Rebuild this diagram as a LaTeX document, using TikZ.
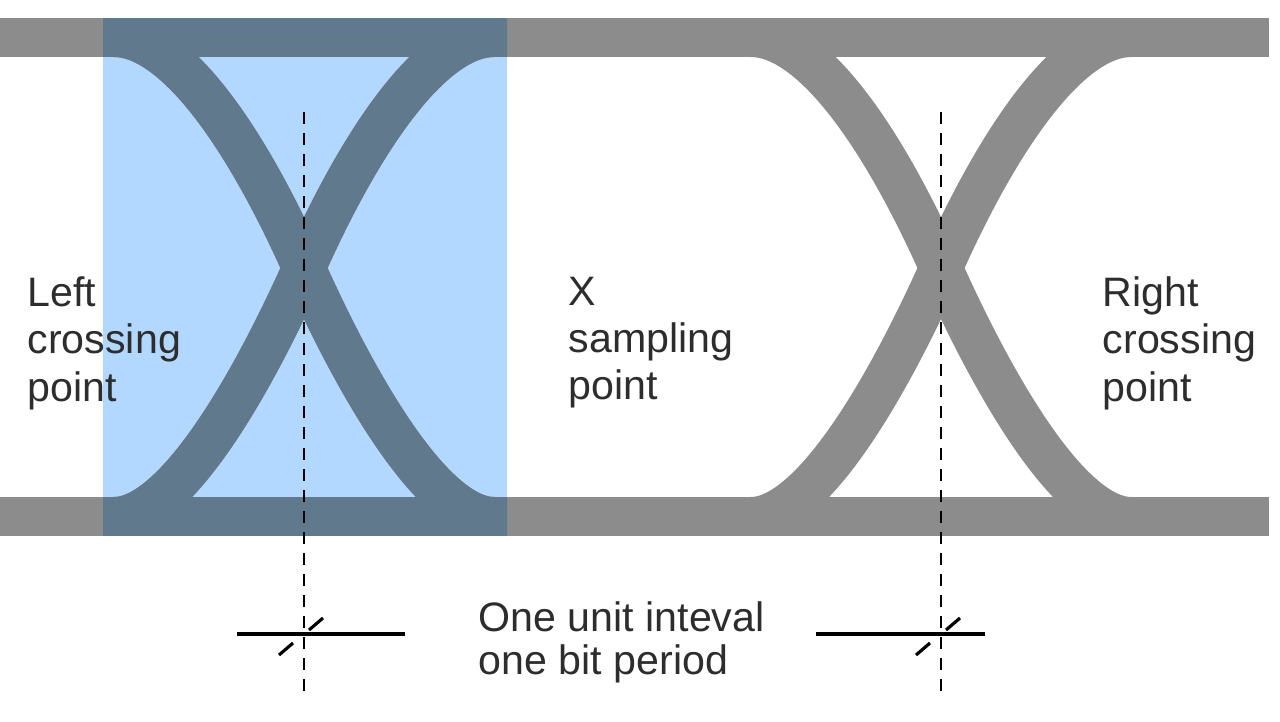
\documentclass[tikz,border=0pt]{standalone}
\usepackage{fontspec}
\setmainfont{Liberation Sans}
\usetikzlibrary{positioning, calc}

\definecolor{eyegray}{RGB}{140,140,140}
\definecolor{uiblue}{RGB}{179,216,255}
\definecolor{eyedark}{RGB}{96,121,140}
\definecolor{txtgray}{RGB}{45,45,45}

% bands + the two crossings, in one colour
\newcommand{\drawEye}[1]{%
  \draw[band, #1] (0,37.5) -- (1269,37.5);
  \draw[band, #1] (0,516.5) -- (1269,516.5);
  \begin{scope}
    \clip (0,18.3) rectangle (1269,535.7);
    \foreach \cx in {304,941} {
      \draw[strand, #1] (\cx-190,35.5) .. controls (\cx-130,35.5) and (\cx-60,133) .. (\cx,268)
                     .. controls (\cx+55,391) and (\cx+130,518.5) .. (\cx+190,518.5);
      \draw[strand, #1] (\cx+190,35.5) .. controls (\cx+130,35.5) and (\cx+60,133) .. (\cx,268)
                     .. controls (\cx-55,391) and (\cx-130,518.5) .. (\cx-190,518.5);
    }
  \end{scope}
}

\begin{document}
\begin{tikzpicture}[
  x=0.01cm, y=-0.01cm,
  band/.style={eyegray, line width=0.39cm},
  strand/.style={eyegray, line width=0.43cm},
  guide/.style={black, line width=0.8pt, dash pattern=on 0.12cm off 0.09cm},
  ruler/.style={black, line width=0.9pt},
  lbl/.style={anchor=north west, inner sep=0pt, align=left, text=txtgray,
              font=\fontsize{11.7}{13.5}\selectfont},
]
  \useasboundingbox (0,0) rectangle (1280,721);

  % one unit interval, shaded
  \fill[uiblue] (103,18) rectangle (507,536);
  \drawEye{eyegray}
  \begin{scope}
    \clip (103,18) rectangle (507,536);
    \drawEye{eyedark}
  \end{scope}

  % crossing points, guides and marks
  \coordinate (lcross) at (304,268);
  \coordinate (rcross) at (941,268);
  \foreach \c/\a/\b in {lcross/-67/101, rcross/-125/44} {
    \draw[guide] ($(\c)+(0,-156)$) -- ($(\c)+(0,428)$);
    \draw[ruler] ($(\c)+(\a,366)$) -- ($(\c)+(\b,366)$);
    \draw[ruler] ($(\c)+(5,362)$) -- ($(\c)+(19,350)$);
    \draw[ruler] ($(\c)+(-25,387)$) -- ($(\c)+(-11,375)$);
  }

  \node[lbl] (left) at (27,276) {Left\\crossing\\point};
  \node[lbl] (samp) at (568,276) {X\\sampling\\point};
  \node[lbl] (right) at (1102,276) {Right\\crossing\\point};
  \node[lbl, font=\fontsize{11.7}{12.2}\selectfont] (ui) at (478,601) {One unit inteval\\one bit period};
\end{tikzpicture}
\end{document}
